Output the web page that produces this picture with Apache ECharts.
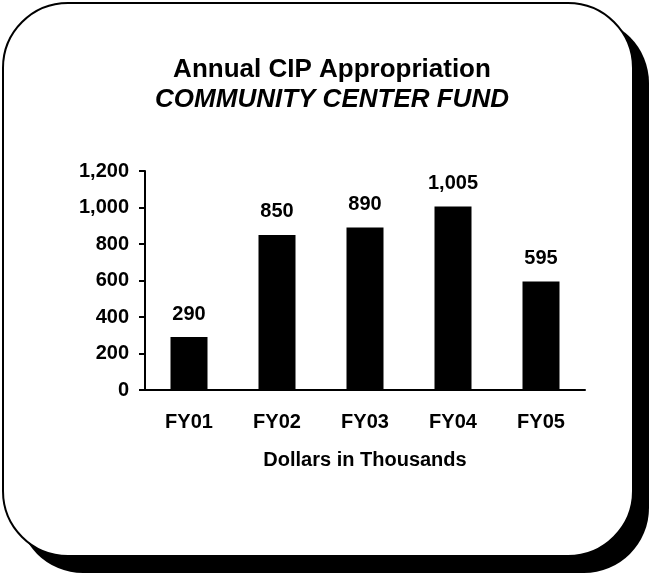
<!DOCTYPE html>
<html>
<head>
<meta charset="utf-8">
<script src="https://cdn.jsdelivr.net/npm/echarts@6/dist/echarts.min.js"></script>
<style>
  html, body { margin: 0; padding: 0; background: #fff; }
  #chart { width: 650px; height: 574px; }
</style>
</head>
<body>
<div id="chart"></div>
<script>
const categories = ['FY01', 'FY02', 'FY03', 'FY04', 'FY05'];
const appropriation = [290, 850, 890, 1005, 595];

const FONT = '"Liberation Sans", Arial, sans-serif';
const fmt = v => Number(v).toLocaleString('en-US');

const chart = echarts.init(document.getElementById('chart'));

const option = {
  animation: false,
  graphic: [
    {
      // drop shadow of the frame
      type: 'rect',
      z: -10,
      shape: { x: 18, y: 18, width: 631, height: 555, r: 65 },
      style: { fill: '#000' },
    },
    {
      type: 'rect',
      z: -9,
      shape: { x: 3, y: 3, width: 630, height: 553, r: 65 },
      style: { fill: '#fff', stroke: '#000', lineWidth: 2 },
    },
  ],
  title: {
    text: 'Annual CIP Appropriation',
    subtext: 'COMMUNITY CENTER FUND',
    left: 327,
    textAlign: 'center',
    top: 52,
    itemGap: 4,
    textStyle: { fontFamily: FONT, fontSize: 26, fontWeight: 'bold', color: '#000' },
    subtextStyle: {
      fontFamily: FONT, fontSize: 26, fontWeight: 'bold', fontStyle: 'italic', color: '#000',
    },
  },
  grid: { left: 145, right: 65, top: 171, bottom: 184 },
  xAxis: {
    type: 'category',
    data: categories,
    name: 'Dollars in Thousands',
    nameLocation: 'middle',
    nameGap: 60,
    nameTextStyle: { fontFamily: FONT, fontSize: 20, fontWeight: 'bold', color: '#000' },
    axisLine: { lineStyle: { color: '#000', width: 2 } },
    axisTick: { length: 6, lineStyle: { color: '#000', width: 2 } },
    axisLabel: { fontFamily: FONT, fontSize: 20, fontWeight: 'bold', color: '#000', margin: 22 },
  },
  yAxis: {
    type: 'value',
    min: 0,
    max: 1200,
    interval: 200,
    splitLine: { show: false },
    axisLine: { show: true, lineStyle: { color: '#000', width: 2 } },
    axisTick: { show: true, length: 6, lineStyle: { color: '#000', width: 2 } },
    axisLabel: {
      fontFamily: FONT, fontSize: 20, fontWeight: 'bold', color: '#000', margin: 16,
      formatter: v => fmt(v),
    },
  },
  series: [
    {
      type: 'bar',
      data: appropriation,
      barWidth: 37,
      itemStyle: { color: '#000' },
      label: {
        show: true,
        position: 'top',
        distance: 13,
        fontFamily: FONT,
        fontSize: 20,
        fontWeight: 'bold',
        color: '#000',
        formatter: p => fmt(p.value),
      },
    },
  ],
};

chart.setOption(option);
</script>
</body>
</html>
